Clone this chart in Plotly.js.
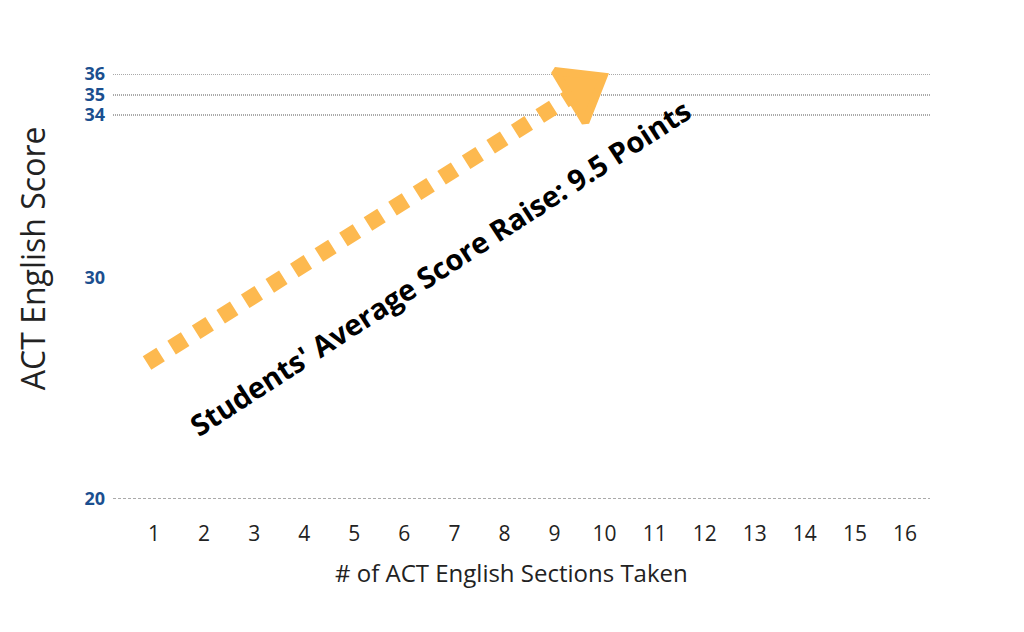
<!DOCTYPE html>
<html>
<head>
<meta charset="utf-8">
<script src="https://cdn.plot.ly/plotly-3.0.1.min.js"></script>
<style>
  html, body { margin: 0; padding: 0; background: #fff; }
  #chart { width: 1024px; height: 632px; }
</style>
</head>
<body>
<div id="chart"></div>
<script>
// data
var sections = [1, 2, 3, 4, 5, 6, 7, 8, 9, 10, 11, 12, 13, 14, 15, 16];
var scoreTicks = [20, 30, 34, 35, 36];
var gridScores = [34, 35, 36];
var baseScore = 20;

// arrow: from first section to the raised score
var arrowX = [0.86, 9.53];
var arrowY = [26.15, 35.24];
var arrowLabel = "Students' Average Score Raise: 9.5 Points";
var labelX = 6.7;
var labelY = 30.27;

// the score axis is stretched near the top: piecewise scale
var knotScore = [20, 30, 34, 35, 36];
var knotPos = [0, 221, 384, 404, 425];
function scale(s) {
  for (var i = 0; i < knotScore.length - 1; i++) {
    if (s <= knotScore[i + 1] || i == knotScore.length - 2) {
      var t = (s - knotScore[i]) / (knotScore[i + 1] - knotScore[i]);
      return knotPos[i] + t * (knotPos[i + 1] - knotPos[i]);
    }
  }
}

var ORANGE = '#FDB94F';

var line = {
  x: arrowX,
  y: arrowY.map(scale),
  mode: 'lines',
  type: 'scatter',
  line: { color: ORANGE, width: 16, dash: '16px,13px' },
  cliponaxis: false,
  hoverinfo: 'skip'
};

var head = {
  x: [arrowX[1]],
  y: [scale(arrowY[1])],
  mode: 'markers',
  type: 'scatter',
  marker: {
    symbol: 'triangle-up',
    size: 52,
    angle: 59,
    color: ORANGE,
    line: { color: ORANGE, width: 8 }
  },
  cliponaxis: false,
  hoverinfo: 'skip'
};

var shapes = gridScores.map(function (s) {
  return {
    type: 'line', xref: 'paper', yref: 'y',
    x0: 0, x1: 1, y0: scale(s), y1: scale(s),
    line: { color: '#555', width: 1, dash: '1px,1px' },
    layer: 'below'
  };
});
shapes.push({
  type: 'line', xref: 'paper', yref: 'y',
  x0: 0, x1: 1, y0: scale(baseScore), y1: scale(baseScore),
  line: { color: '#555', width: 1, dash: '3px,2px' },
  layer: 'below'
});

var layout = {
  width: 1024,
  height: 632,
  margin: { l: 113, r: 94, t: 74, b: 133 },
  showlegend: false,
  paper_bgcolor: '#fff',
  plot_bgcolor: '#fff',
  font: { family: 'Open Sans', color: '#222' },
  xaxis: {
    range: [0.18, 16.5],
    tickvals: sections,
    ticktext: sections.map(String),
    showgrid: false,
    zeroline: false,
    showline: false,
    ticks: '',
    ticklabelstandoff: 20,
    tickfont: { family: 'Open Sans', size: 21, color: '#222' }
  },
  yaxis: {
    range: [0, 425],
    tickvals: scoreTicks.map(scale),
    ticktext: scoreTicks.map(String),
    showgrid: false,
    zeroline: false,
    showline: false,
    ticks: '',
    ticklabelstandoff: 7,
    tickfont: { family: 'Open Sans', size: 18, color: '#1B4F8F', weight: 'bold' }
  },
  shapes: shapes,
  annotations: [{
    x: labelX,
    y: scale(labelY),
    xref: 'x', yref: 'y',
    text: '<b>' + arrowLabel + '</b>',
    showarrow: false,
    textangle: -33,
    font: { family: 'Open Sans', size: 29, color: '#000' }
  }, {
    // y axis title sits a bit above the plot's middle
    x: -0.099, y: 0.567,
    xref: 'paper', yref: 'paper',
    xanchor: 'center', yanchor: 'middle',
    text: 'ACT English Score',
    showarrow: false,
    textangle: -90,
    font: { family: 'Open Sans', size: 32, color: '#222' }
  }, {
    // x axis title, slightly left of the plot's middle
    x: 0.488, y: -0.174,
    xref: 'paper', yref: 'paper',
    xanchor: 'center', yanchor: 'middle',
    text: '# of ACT English Sections Taken',
    showarrow: false,
    font: { family: 'Open Sans', size: 24, color: '#222' }
  }],
  hovermode: false
};

Plotly.newPlot('chart', [line, head], layout, { displayModeBar: false, staticPlot: true });
</script>
</body>
</html>
